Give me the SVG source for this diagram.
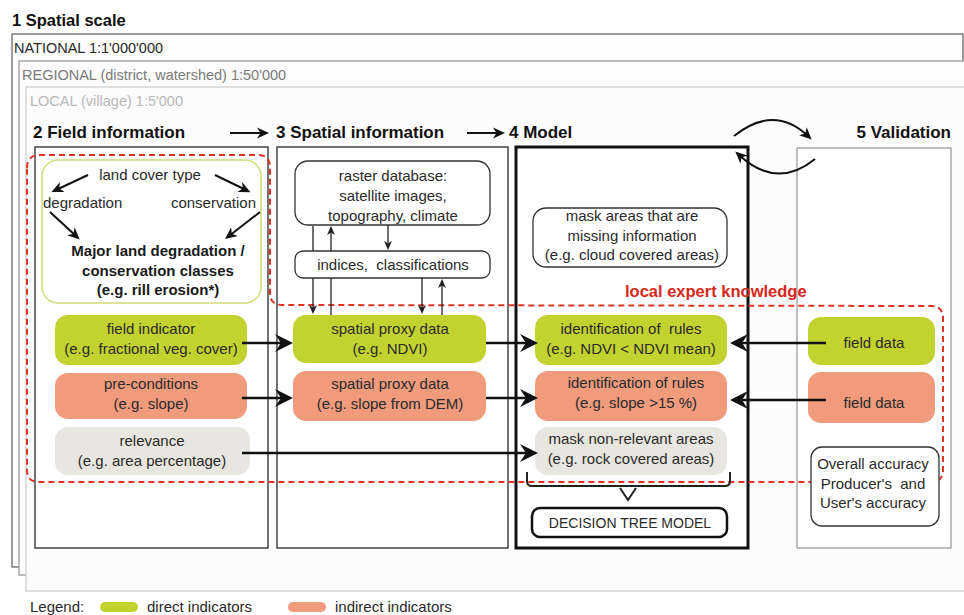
<svg xmlns="http://www.w3.org/2000/svg" width="964" height="615" viewBox="0 0 964 615">
<style>
text{font-family:"Liberation Sans",Arial,sans-serif;fill:#2a2a2a}
.h1{font-size:16.5px;font-weight:bold;fill:#111}
.h2{font-size:17px;font-weight:bold;fill:#111}
.sc{font-size:14.5px}
.t{font-size:15px;text-anchor:middle}
.tb{font-size:15px;font-weight:bold;text-anchor:middle;fill:#1a1a1a}
.sec{fill:#fff;stroke:#444;stroke-width:1.5}
.green{fill:#c2d330}
.orange{fill:#ef9b7c}
.gray{fill:#e8e6e0}
.wbox{fill:#fff;stroke:#333;stroke-width:1.3}
.big{stroke:#111;stroke-width:2.6;fill:none}
.thin{stroke:#222;stroke-width:1.3;fill:none}
.mid{stroke:#111;stroke-width:2;fill:none}
.red{stroke:#de3424;stroke-width:2;stroke-dasharray:6 4;fill:none}
</style>
<defs>
<marker id="ab" markerUnits="userSpaceOnUse" markerWidth="18" markerHeight="18" viewBox="0 0 18 18" refX="10" refY="9" orient="auto">
<path d="M0,0 L18,9 L0,18 L6,9 Z" fill="#111"/>
</marker>
<marker id="am" markerUnits="userSpaceOnUse" markerWidth="12" markerHeight="12" viewBox="0 0 12 12" refX="7" refY="6" orient="auto">
<path d="M0,0.5 L12,6 L0,11.5 L3.5,6 Z" fill="#111"/>
</marker>
<marker id="as" markerUnits="userSpaceOnUse" markerWidth="9" markerHeight="9" viewBox="0 0 9 9" refX="5" refY="4.5" orient="auto">
<path d="M0,0.5 L9,4.5 L0,8.5 L2.5,4.5 Z" fill="#222"/>
</marker>
</defs>
<rect x="0" y="0" width="964" height="615" fill="#fff"/>
<g id="scale">
<text class="h1" x="12" y="26">1 Spatial scale</text>
<rect x="12" y="34" width="951" height="533" fill="#fdfdfd" stroke="#6a6a6a" stroke-width="1.3"/>
<text class="sc" x="14" y="53">NATIONAL 1:1'000'000</text>
<rect x="19" y="61" width="960" height="514" fill="#fdfdfd" stroke="#9a9a9a" stroke-width="1.3"/>
<text class="sc" x="22" y="80" style="fill:#7a7a7a">REGIONAL (district, watershed) 1:50'000</text>
<rect x="26" y="87" width="960" height="504" fill="#fcfcfc" stroke="#d0d0d0" stroke-width="1.3"/>
<text class="sc" x="30" y="106" style="fill:#b8b8b8">LOCAL (village) 1:5'000</text>
</g>
<g id="sections">
<g id="field-information">
<text class="h2" x="33" y="138">2 Field information</text>
<rect class="sec" x="35" y="147" width="233" height="401"/>
</g>
<g id="spatial-information">
<text class="h2" x="276" y="138">3 Spatial information</text>
<rect class="sec" x="277" y="147" width="231" height="401"/>
</g>
<g id="model">
<text class="h2" x="509" y="138">4 Model</text>
<rect x="516" y="147" width="232" height="401" fill="#fff" stroke="#111" stroke-width="3"/>
</g>
<g id="validation">
<text class="h2" x="951" y="138" text-anchor="end">5 Validation</text>
<rect x="797" y="148" width="154" height="400" fill="#fff" stroke="#aaa" stroke-width="1.5"/>
</g>
</g>
<g id="local-expert-knowledge">
<path class="red" d="M27,168 Q27,155 40,155 L258,155 Q270,155 270,167 L270,293 Q270,305 282,305 L931,306 Q943,306 943,318 L943,470 Q943,482 931,482 L39,482 Q27,482 27,470 Z"/>
<text x="625" y="297" style="font-size:16.5px;font-weight:bold;fill:#d8281b">local expert knowledge</text>
</g>
<g id="land-cover">
<rect x="42" y="160" width="219" height="143" rx="16" fill="#fff" stroke="#d2da78" stroke-width="1.5"/>
<text class="t" x="150" y="180">land cover type</text>
<text x="43" y="208" style="font-size:15px">degradation</text>
<text x="256" y="208" text-anchor="end" style="font-size:15px">conservation</text>
<text class="tb" x="158" y="256">Major land degradation /</text>
<text class="tb" x="158" y="276">conservation classes</text>
<text class="tb" x="158" y="295">(e.g. rill erosion*)</text>
</g>
<g id="field-indicator">
<rect class="green" x="55" y="315" width="192" height="50" rx="13"/>
<text class="t" x="151" y="334">field indicator</text>
<text class="t" x="151" y="354">(e.g. fractional veg. cover)</text>
</g>
<g id="pre-conditions">
<rect class="orange" x="55" y="373" width="192" height="46" rx="13"/>
<text class="t" x="151" y="389">pre-conditions</text>
<text class="t" x="151" y="409">(e.g. slope)</text>
</g>
<g id="relevance">
<rect class="gray" x="55" y="427" width="195" height="48" rx="13"/>
<text class="t" x="152" y="446">relevance</text>
<text class="t" x="152" y="466">(e.g. area percentage)</text>
</g>
<g id="raster-database">
<rect class="wbox" x="295" y="161" width="195" height="64" rx="13"/>
<text class="t" x="393" y="181">raster database:</text>
<text class="t" x="393" y="201">satellite images,</text>
<text class="t" x="393" y="221">topography, climate</text>
</g>
<g id="indices">
<rect class="wbox" x="295" y="251" width="195" height="27" rx="8"/>
<text class="t" x="393" y="270" xml:space="preserve">indices,  classifications</text>
</g>
<g id="spatial-proxy-ndvi">
<rect class="green" x="293" y="315" width="193" height="48" rx="13"/>
<text class="t" x="390" y="334">spatial proxy data</text>
<text class="t" x="390" y="354">(e.g. NDVI)</text>
</g>
<g id="spatial-proxy-dem">
<rect class="orange" x="293" y="371" width="193" height="50" rx="13"/>
<text class="t" x="390" y="389">spatial proxy data</text>
<text class="t" x="390" y="409">(e.g. slope from DEM)</text>
</g>
<g id="mask-missing">
<rect class="wbox" x="533" y="208" width="194" height="59" rx="13"/>
<text class="t" x="632" y="221">mask areas that are</text>
<text class="t" x="632" y="241">missing information</text>
<text class="t" x="632" y="260">(e.g. cloud covered areas)</text>
</g>
<g id="rules-ndvi">
<rect class="green" x="535" y="315" width="192" height="50" rx="13"/>
<text class="t" x="631" y="334" xml:space="preserve">identification of  rules</text>
<text class="t" x="631" y="354">(e.g. NDVI &lt; NDVI mean)</text>
</g>
<g id="rules-slope">
<rect class="orange" x="535" y="371" width="192" height="50" rx="13"/>
<text class="t" x="636" y="388">identification of rules</text>
<text class="t" x="636" y="408">(e.g. slope &gt;15 %)</text>
</g>
<g id="mask-non-relevant">
<rect class="gray" x="535" y="427" width="192" height="48" rx="13"/>
<text class="t" x="631" y="444">mask non-relevant areas</text>
<text class="t" x="631" y="464">(e.g. rock covered areas)</text>
</g>
<g id="decision-tree">
<rect x="532" y="508" width="195" height="29" rx="8" fill="#fff" stroke="#111" stroke-width="2.5"/>
<text class="t" x="630" y="528" style="font-size:14px">DECISION TREE MODEL</text>
</g>
<g id="field-data-1">
<rect class="green" x="808" y="317" width="127" height="48" rx="13"/>
<text class="t" x="874" y="348">field data</text>
</g>
<g id="field-data-2">
<rect class="orange" x="808" y="372" width="127" height="51" rx="13"/>
<text class="t" x="874" y="408">field data</text>
</g>
<g id="accuracy">
<rect class="wbox" x="811" y="447" width="128" height="79" rx="11"/>
<text class="t" x="873" y="469">Overall accuracy</text>
<text class="t" x="873" y="489" xml:space="preserve">Producer's  and</text>
<text class="t" x="873" y="508">User's accuracy</text>
</g>
<g id="connectors">
<line class="mid" x1="230" y1="133" x2="264" y2="133" marker-end="url(#am)"/>
<line class="mid" x1="467" y1="133" x2="500" y2="133" marker-end="url(#am)"/>
<path class="mid" d="M734,136 Q774,104 808,136" marker-end="url(#am)"/>
<path class="mid" d="M815,159 Q777,190 739,155" marker-end="url(#am)"/>
<line class="mid" x1="88" y1="175" x2="56" y2="190" marker-end="url(#am)"/>
<line class="mid" x1="215" y1="175" x2="246" y2="190" marker-end="url(#am)"/>
<line class="mid" x1="50" y1="212" x2="76" y2="236" marker-end="url(#am)"/>
<line class="mid" x1="260" y1="212" x2="229" y2="236" marker-end="url(#am)"/>
<line class="thin" x1="313" y1="226" x2="313" y2="251"/>
<line class="thin" x1="313" y1="278" x2="313" y2="310" marker-end="url(#as)"/>
<line class="thin" x1="331" y1="315" x2="331" y2="278"/>
<line class="thin" x1="331" y1="251" x2="331" y2="230" marker-end="url(#as)"/>
<line class="thin" x1="388" y1="225" x2="388" y2="246" marker-end="url(#as)"/>
<line class="thin" x1="422" y1="278" x2="422" y2="310" marker-end="url(#as)"/>
<line class="thin" x1="442" y1="315" x2="442" y2="283" marker-end="url(#as)"/>
<line class="big" x1="242" y1="343" x2="285" y2="343" marker-end="url(#ab)"/>
<line class="big" x1="242" y1="398" x2="285" y2="398" marker-end="url(#ab)"/>
<line class="big" x1="486" y1="343" x2="530" y2="343" marker-end="url(#ab)"/>
<line class="big" x1="486" y1="398" x2="530" y2="398" marker-end="url(#ab)"/>
<line class="big" x1="242" y1="453" x2="530" y2="453" marker-end="url(#ab)"/>
<line class="big" x1="826" y1="343" x2="738" y2="343" marker-end="url(#ab)"/>
<line class="big" x1="826" y1="400" x2="738" y2="400" marker-end="url(#ab)"/>
<path d="M527,472 L527,481 Q527,486 532,486 L725,486 Q730,486 730,481 L730,472" fill="none" stroke="#222" stroke-width="2"/>
<path d="M620,488 L628,500 L636,488" fill="none" stroke="#222" stroke-width="2"/>
</g>
<g id="legend">
<text x="30" y="612" style="font-size:15px">Legend:</text>
<rect x="100" y="602" width="38" height="10" rx="5" class="green"/>
<text x="147" y="612" style="font-size:15px">direct indicators</text>
<rect x="288" y="602" width="38" height="10" rx="5" class="orange"/>
<text x="335" y="612" style="font-size:15px">indirect indicators</text>
</g>
</svg>
